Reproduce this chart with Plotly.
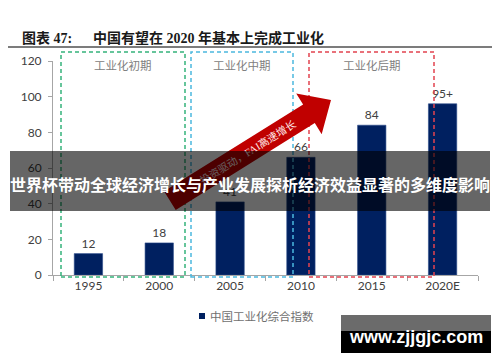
import math
import plotly.graph_objects as go

# ---- data ----
years = ["1995", "2000", "2005", "2010", "2015", "2020E"]
index_values = [12, 18, 41, 66, 84, 96]
value_labels = ["12", "18", "41", "66", "84", "95+"]
y_ticks = [0, 20, 40, 60, 80, 100, 120]
series_name = "中国工业化综合指数"
stage_names = ["工业化初期", "工业化中期", "工业化后期"]
title_prefix = "图表 47:"
title_text = "中国有望在 2020 年基本上完成工业化"
arrow_text = "投资驱动，FAI高速增长"
banner_text = "世界杯带动全球经济增长与产业发展探析经济效益显著的多维度影响"
watermark_text = "www.zjjgjc.com"

# ---- layout geometry (pixels, in the reference picture) ----
W, H = 500, 362
OFF = 8                      # page body margin of the html page
L, R, T, B = 53, 478, 61, 275


def px(x):
    return (x - L) / (R - L)


def py(y):
    return (B - y) / (B - T)


NAVY = "#002060"
TXT = "#404040"
AX = "#a6a6a6"
CJK = "Noto Sans CJK SC"

fig = go.Figure()
fig.add_trace(go.Bar(
    x=years, y=index_values, name=series_name,
    marker=dict(color=NAVY, line=dict(color="#2a4a8a", width=0.6)),
    text=value_labels, textposition="outside", cliponaxis=False,
    textfont=dict(color=TXT, size=12, family="Lato, " + CJK),
    showlegend=False,
))

shapes = []
annotations = []


def note(x, y, text, font, xanchor="center", yanchor="middle"):
    annotations.append(dict(xref="paper", yref="paper", x=px(x), y=py(y),
                            xanchor=xanchor, yanchor=yanchor, text=text,
                            showarrow=False, font=font))


# dashed stage boxes
boxes = [(61, 185, "#35b27b"), (191, 293, "#4bb8de"), (309, 434, "#e2434f")]
for (x0, x1, col), name in zip(boxes, stage_names):
    shapes.append(dict(type="rect", xref="paper", yref="paper",
                       x0=px(x0), x1=px(x1), y0=py(277), y1=py(52),
                       line=dict(color=col, width=1.5, dash="4px,3px"),
                       fillcolor="rgba(0,0,0,0)", layer="above"))
    note((x0 + x1) / 2, 65, name, dict(color="#808080", size=11.5, family=CJK))

# big red arrow
ang = math.radians(32)
ux, uy = math.cos(ang), -math.sin(ang)
nx, ny = math.sin(ang), math.cos(ang)
tip = (331, 100)
head_len, head_half, shaft_half, shaft_len = 26, 24, 11, 164
neck = (tip[0] - head_len * ux, tip[1] - head_len * uy)
tail = (neck[0] - shaft_len * ux, neck[1] - shaft_len * uy)
pts = [
    (tail[0] - shaft_half * nx, tail[1] - shaft_half * ny),
    (neck[0] - shaft_half * nx, neck[1] - shaft_half * ny),
    (neck[0] - head_half * nx, neck[1] - head_half * ny),
    tip,
    (neck[0] + head_half * nx, neck[1] + head_half * ny),
    (neck[0] + shaft_half * nx, neck[1] + shaft_half * ny),
    (tail[0] + shaft_half * nx, tail[1] + shaft_half * ny),
]
path = "M " + " L ".join(f"{px(a):.5f},{py(b):.5f}" for a, b in pts) + " Z"
shapes.append(dict(type="path", xref="paper", yref="paper", path=path,
                   fillcolor="#c00000", line=dict(width=0), layer="above",
                   label=dict(text=arrow_text, textposition="middle center",
                              textangle=-32,
                              font=dict(color="#ffe8e8", size=10.5,
                                        family="Liberation Serif, " + CJK))))

# title underline
shapes.append(dict(type="line", xref="paper", yref="paper",
                   x0=px(0), x1=px(500), y0=py(47), y1=py(47),
                   line=dict(color="#505050", width=1.5), layer="above"))

# legend
shapes.append(dict(type="rect", xref="paper", yref="paper",
                   x0=px(199), x1=px(205), y0=py(319), y1=py(313),
                   fillcolor=NAVY, line=dict(width=0), layer="above"))
note(208, 316, series_name, dict(color="#707070", size=11.5, family=CJK), xanchor="left")

# banner overlay
shapes.append(dict(type="rect", xref="paper", yref="paper",
                   x0=px(10), x1=px(490), y0=py(211), y1=py(151),
                   fillcolor="rgba(0,0,0,0.6)", line=dict(width=0), layer="above"))
note(250, 184, "<b>" + banner_text + "</b>", dict(color="white", size=16, family=CJK))

# watermark
shapes.append(dict(type="rect", xref="paper", yref="paper",
                   x0=px(341), x1=px(491), y0=py(331), y1=py(315),
                   fillcolor="rgba(0,0,0,0.58)", line=dict(width=0), layer="above"))
shapes.append(dict(type="rect", xref="paper", yref="paper",
                   x0=px(341), x1=px(491), y0=py(353), y1=py(331),
                   fillcolor="black", line=dict(width=0), layer="above"))
note(416, 337, "<b>" + watermark_text + "</b>",
     dict(color="white", size=18, family="Liberation Sans"))

# title
title_font = dict(color="#1a1a1a", size=14, family="Liberation Serif, " + CJK)
note(20, 38, "<b>" + title_prefix + "</b>", title_font, xanchor="left")
note(91, 38, "<b>" + title_text + "</b>", title_font, xanchor="left")

fig.update_layout(
    width=W, height=H, autosize=False,
    margin=dict(l=L - OFF, r=W - R + OFF, t=T - OFF, b=H - B + OFF, pad=0),
    paper_bgcolor="white", plot_bgcolor="white",
    bargap=0.6, showlegend=False,
    shapes=shapes, annotations=annotations,
    font=dict(family="Lato, " + CJK, color=TXT, size=12),
)
fig.update_xaxes(type="category", showline=True, linecolor=AX, linewidth=1,
                 ticks="outside", tickson="boundaries", ticklen=5, tickcolor=AX,
                 showgrid=False, zeroline=False,
                 tickfont=dict(size=12, color=TXT))
fig.update_yaxes(range=[0, 120], tickvals=y_ticks, showline=True, linecolor=AX,
                 linewidth=1, ticks="outside", ticklen=4, tickcolor=AX,
                 showgrid=False, zeroline=False, ticklabelstandoff=4,
                 tickfont=dict(size=12, color=TXT))

fig.write_html("out.html")
